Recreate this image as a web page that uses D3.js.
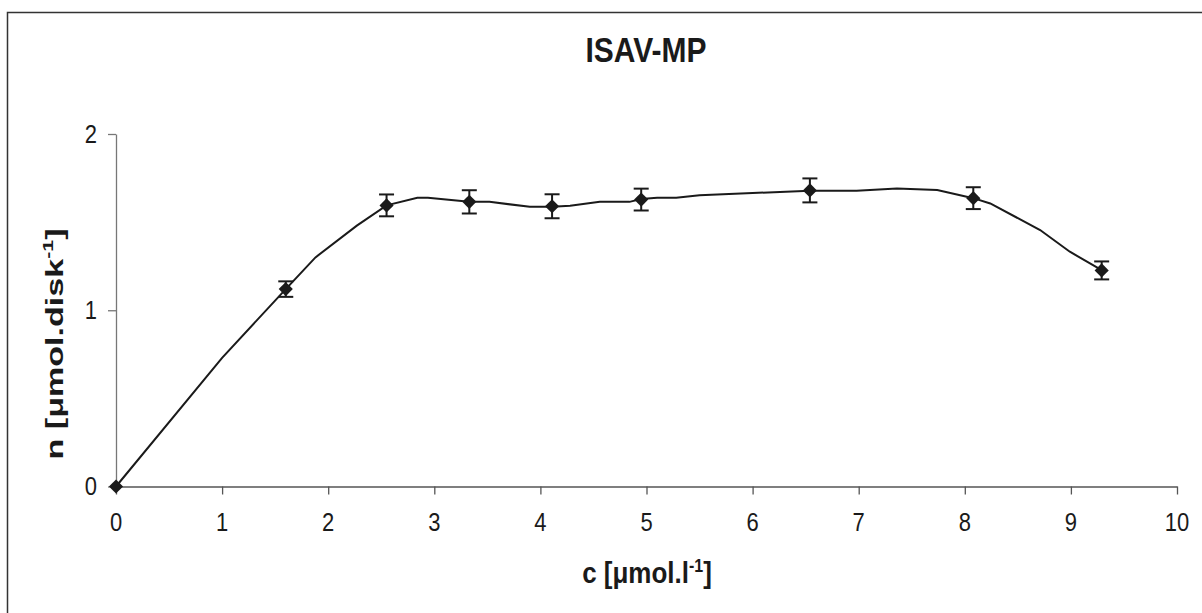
<!DOCTYPE html>
<html>
<head>
<meta charset="utf-8">
<script src="https://cdn.jsdelivr.net/npm/d3@7"></script>
<style>
  body { margin: 0; background: #fff; }
  svg text { font-family: "Liberation Sans", "DejaVu Sans", sans-serif; fill: #1a1a1a; }
</style>
</head>
<body>
<div id="chart"></div>
<script>
//measured points (c, n) with error bars
var cVals = [0, 1.60, 2.55, 3.33, 4.11, 4.95, 6.54, 8.08, 9.29];
var nVals = [0, 1.12, 1.595, 1.615, 1.590, 1.628, 1.680, 1.636, 1.226];
var nErr  = [0, 0.044, 0.062, 0.066, 0.068, 0.062, 0.068, 0.062, 0.051];

//trend line
var fitC = [0, 1.0, 1.60, 1.88, 2.27, 2.55, 2.84, 2.94, 3.33, 3.52, 3.90, 4.11, 4.28, 4.56, 4.84, 4.95, 5.10, 5.28, 5.50, 6.00, 6.54, 6.98, 7.36, 7.74, 8.08, 8.24, 8.71, 8.99, 9.29];
var fitN = [0, 0.73, 1.12, 1.30, 1.48, 1.595, 1.638, 1.638, 1.615, 1.615, 1.587, 1.587, 1.593, 1.615, 1.615, 1.631, 1.638, 1.638, 1.653, 1.665, 1.678, 1.678, 1.691, 1.682, 1.636, 1.606, 1.455, 1.332, 1.228];

var xTicks = [0, 1, 2, 3, 4, 5, 6, 7, 8, 9, 10];
var yTicks = [0, 1, 2];

var W = 1202, H = 613;
var sy = 1.15; //text in the picture is a bit tall

var svg = d3.select("#chart").append("svg")
    .attr("width", W).attr("height", H);

//frame
svg.append("rect")
    .attr("x", 7.5).attr("y", 12.5)
    .attr("width", 1400).attr("height", 800)
    .attr("fill", "none").attr("stroke", "#333").attr("stroke-width", 1.5);

var x = d3.scaleLinear().domain([0, 10]).range([116, 1177]);
var y = d3.scaleLinear().domain([0, 2]).range([486.5, 134]);

//x axis
var gx = svg.append("g")
    .attr("transform", "translate(0," + y(0) + ")")
    .call(d3.axisBottom(x).tickValues(xTicks).tickSize(8).tickSizeOuter(0).tickFormat(d3.format("d")));
gx.select(".domain").attr("stroke", "#555").attr("stroke-width", 1.3);
gx.selectAll(".tick line").attr("stroke", "#555").attr("stroke-width", 1.3);
gx.selectAll(".tick text").remove();
xTicks.forEach(function(t) {
  svg.append("text")
    .attr("transform", "translate(" + x(t) + ",531) scale(1," + sy + ")")
    .attr("text-anchor", "middle")
    .style("font-size", "22px")
    .text(t);
});

//y axis
var gy = svg.append("g")
    .attr("transform", "translate(" + x(0) + ",0)")
    .call(d3.axisLeft(y).tickValues(yTicks).tickSize(8).tickSizeOuter(0));
gy.select(".domain").attr("stroke", "#777").attr("stroke-width", 1.3);
gy.selectAll(".tick line").attr("stroke", "#777").attr("stroke-width", 1.3);
gy.selectAll(".tick text").remove();
yTicks.forEach(function(t) {
  svg.append("text")
    .attr("transform", "translate(97," + (y(t) + 8.5) + ") scale(1," + sy + ")")
    .attr("text-anchor", "end")
    .style("font-size", "22px")
    .text(t);
});

//trend line
var line = d3.line()
    .x(function(d, i) { return x(fitC[i]); })
    .y(function(d, i) { return y(fitN[i]); });
svg.append("path")
    .datum(fitN)
    .attr("d", line)
    .attr("fill", "none")
    .attr("stroke", "#1a1a1a")
    .attr("stroke-width", 2);

//error bars
var pts = cVals.map(function(c, i) { return {c: c, n: nVals[i], e: nErr[i]}; });
var eb = svg.append("g").attr("stroke", "#1a1a1a").attr("stroke-width", 2);
pts.filter(function(d) { return d.e > 0; }).forEach(function(d) {
  var px = x(d.c), y1 = y(d.n + d.e), y2 = y(d.n - d.e);
  eb.append("line").attr("x1", px).attr("x2", px).attr("y1", y1).attr("y2", y2);
  eb.append("line").attr("x1", px - 7.5).attr("x2", px + 7.5).attr("y1", y1).attr("y2", y1);
  eb.append("line").attr("x1", px - 7.5).attr("x2", px + 7.5).attr("y1", y2).attr("y2", y2);
});

//diamond markers
svg.append("g").selectAll("path")
    .data(pts)
  .enter().append("path")
    .attr("d", d3.symbol().type(d3.symbolSquare).size(100))
    .attr("transform", function(d) { return "translate(" + x(d.c) + "," + y(d.n) + ") rotate(45)"; })
    .attr("fill", "#1a1a1a");

//title
svg.append("text")
    .attr("transform", "translate(646,62) scale(1," + sy + ")")
    .attr("text-anchor", "middle")
    .style("font-size", "30px").style("font-weight", "bold")
    .text("ISAV-MP");

//x label
var xl = svg.append("text")
    .attr("transform", "translate(647,583) scale(1," + sy + ")")
    .attr("text-anchor", "middle")
    .style("font-size", "26px").style("font-weight", "bold");
xl.append("tspan").text("c [\u03bcmol.l");
xl.append("tspan").attr("dy", -10).style("font-size", "16px").text("-1");
xl.append("tspan").attr("dy", 10).text("]");

//y label
var yl = svg.append("text")
    .attr("transform", "translate(63,344) rotate(-90) scale(1.42,1)")
    .attr("text-anchor", "middle")
    .style("font-size", "24px").style("font-weight", "bold");
yl.append("tspan").text("n [\u03bcmol.disk");
yl.append("tspan").attr("dy", -10).style("font-size", "15px").text("-1");
yl.append("tspan").attr("dy", 10).text("]");
</script>
</body>
</html>
